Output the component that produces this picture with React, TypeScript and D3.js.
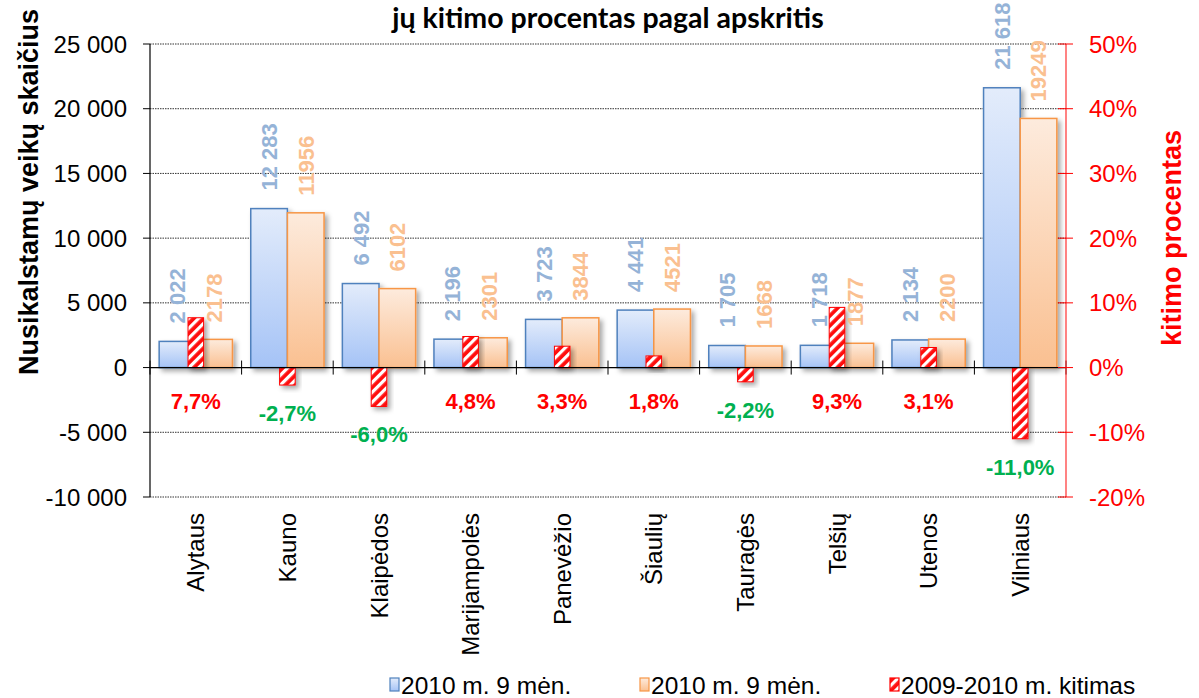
import React from 'react';
import * as d3 from 'd3';

const categories = ['Alytaus', 'Kauno', 'Klaipėdos', 'Marijampolės', 'Panevėžio', 'Šiaulių', 'Tauragės', 'Telšių', 'Utenos', 'Vilniaus'];
const seriesA = [2022, 12283, 6492, 2196, 3723, 4441, 1705, 1718, 2134, 21618];
const seriesB = [2178, 11956, 6102, 2301, 3844, 4521, 1668, 1877, 2200, 19249];
const changePct = [7.7, -2.7, -6.0, 4.8, 3.3, 1.8, -2.2, 9.3, 3.1, -11.0];
const leftTicks = [-10000, -5000, 0, 5000, 10000, 15000, 20000, 25000];
const rightTicks = [-20, -10, 0, 10, 20, 30, 40, 50];
const legendLabels = ['2010 m. 9 mėn.', '2010 m. 9 mėn.', '2009-2010 m. kitimas'];
const titleText = 'jų kitimo procentas pagal apskritis';
const leftTitle = 'Nusikalstamų veikų skaičius';
const rightTitle = 'kitimo procentas';

const loc = d3.formatLocale({ decimal: ',', thousands: ' ', grouping: [3], currency: ['', ''], minus: '-' });
const fmtGroup = loc.format(',d');
const fmtPlain = loc.format('d');
const fmtPct = (v: number) => loc.format('.1f')(v) + '%';
const fmtAxisPct = (v: number) => loc.format('d')(v) + '%';

const W = 1199;
const H = 698;
const L = 150;
const R = 1066;
const T = 44;
const B = 497;
const FONT = '"Liberation Sans", Arial, sans-serif';

export default function App() {
  const x = d3.scaleBand<string>().domain(categories).range([L, R]).paddingInner(0).paddingOuter(0);
  const yL = d3.scaleLinear().domain([-10000, 25000]).range([B, T]);
  const yR = d3.scaleLinear().domain([-20, 50]).range([B, T]);
  const bw = x.bandwidth();
  const barW = bw * 0.4;
  const hatchW = bw * 0.17;
  const zero = yL(0);

  return (
    <svg width={W} height={H} style={{ position: 'absolute', left: 0, top: 0, background: '#fff' }} fontFamily={FONT}>
      <defs>
        <linearGradient id="gBlue" x1="0" y1="0" x2="0" y2="1">
          <stop offset="0" stopColor="#E3ECFB" />
          <stop offset="1" stopColor="#A5C3F6" />
        </linearGradient>
        <linearGradient id="gOrange" x1="0" y1="0" x2="0" y2="1">
          <stop offset="0" stopColor="#FDEBDD" />
          <stop offset="1" stopColor="#FAC091" />
        </linearGradient>
        <pattern id="hatch" patternUnits="userSpaceOnUse" width="7" height="7" patternTransform="rotate(45)">
          <rect width="7" height="7" fill="#FF1010" />
          <rect x="0" y="0" width="3.2" height="7" fill="#ffffff" />
        </pattern>
        <filter id="shadow" x="-30%" y="-30%" width="170%" height="170%">
          <feDropShadow dx="3" dy="3" stdDeviation="2.5" floodColor="#000" floodOpacity="0.35" />
        </filter>
      </defs>

      {/* title */}
      <text x={608} y={28} textAnchor="middle" fontFamily='Lato, "Open Sans", sans-serif' fontWeight="bold" fontSize={28.5} fill="#000">
        {titleText}
      </text>

      {/* gridlines */}
      {leftTicks.filter((t) => t !== 0).map((t) => (
        <line key={'g' + t} x1={L} x2={R} y1={yL(t)} y2={yL(t)} stroke="#333" strokeWidth={1} strokeDasharray="1.5 1" />
      ))}

      {/* bars */}
      {categories.map((c, i) => (
        <g key={'b' + c} filter="url(#shadow)">
          <rect x={x(c)! + bw * 0.1} y={yL(seriesA[i])} width={barW} height={zero - yL(seriesA[i])} fill="url(#gBlue)" stroke="#4F81BD" strokeWidth={1.5} />
          <rect x={x(c)! + bw * 0.5} y={yL(seriesB[i])} width={barW} height={zero - yL(seriesB[i])} fill="url(#gOrange)" stroke="#F79646" strokeWidth={1.5} />
        </g>
      ))}
      {categories.map((c, i) => {
        const v = changePct[i];
        const y0 = yR(Math.max(v, 0));
        const y1 = yR(Math.min(v, 0));
        return (
          <rect key={'h' + c} filter="url(#shadow)" x={x(c)! + bw / 2 - hatchW / 2} y={y0} width={hatchW} height={y1 - y0} fill="url(#hatch)" stroke="#FF0000" strokeWidth={1} />
        );
      })}

      {/* zero line */}
      <line x1={L} x2={R} y1={zero} y2={zero} stroke="#000" strokeWidth={1.2} />
      {categories.map((c) => (
        <line key={'ct' + c} x1={x(c)!} x2={x(c)!} y1={zero - 7} y2={zero + 7} stroke="#000" strokeWidth={1} />
      ))}
      <line x1={R} x2={R} y1={zero - 7} y2={zero + 7} stroke="#000" strokeWidth={1} />

      {/* left axis */}
      <line x1={L} x2={L} y1={T} y2={B} stroke="#000" strokeWidth={1.2} />
      {leftTicks.map((t) => (
        <g key={'lt' + t}>
          <line x1={L - 7} x2={L} y1={yL(t)} y2={yL(t)} stroke="#000" strokeWidth={1} />
          <text x={127} y={yL(t)} dy="0.36em" textAnchor="end" fontSize={24} fill="#000">
            {t === 0 ? '0' : fmtGroup(t)}
          </text>
        </g>
      ))}

      {/* right axis */}
      <line x1={R} x2={R} y1={T} y2={B} stroke="#FF3030" strokeWidth={1.2} />
      {rightTicks.map((t) => (
        <g key={'rt' + t}>
          <line x1={R - 8} x2={R + 7} y1={yR(t)} y2={yR(t)} stroke="#FF0000" strokeWidth={1} />
          <text x={1089} y={yR(t)} dy="0.36em" textAnchor="start" fontSize={24} fill="#FF0000">
            {fmtAxisPct(t)}
          </text>
        </g>
      ))}

      {/* value labels */}
      {categories.map((c, i) => {
        const cxA = x(c)! + bw * 0.3;
        const cxB = x(c)! + bw * 0.7;
        const yA = yL(seriesA[i]) - 18;
        const yB = yL(seriesB[i]) - 17;
        return (
          <g key={'vl' + c} fontWeight="bold" fontSize={22}>
            <text transform={`translate(${cxA},${yA}) rotate(-90)`} dy="0.36em" fill="#95B3D7">
              {fmtGroup(seriesA[i])}
            </text>
            <text transform={`translate(${cxB},${yB}) rotate(-90)`} dy="0.36em" fill="#FAC090">
              {fmtPlain(seriesB[i])}
            </text>
          </g>
        );
      })}

      {/* percent labels */}
      {categories.map((c, i) => {
        const v = changePct[i];
        const cy = Math.max(401, yR(Math.min(v, 0)) + 28);
        return (
          <text key={'pl' + c} x={x(c)! + bw / 2} y={cy} dy="0.36em" textAnchor="middle" fontWeight="bold" fontSize={22} fill={v < 0 ? '#00B050' : '#FF0000'}>
            {fmtPct(v)}
          </text>
        );
      })}

      {/* category labels */}
      {categories.map((c) => (
        <text key={'cl' + c} transform={`translate(${x(c)! + bw / 2},${513}) rotate(-90)`} dy="0.36em" textAnchor="end" fontSize={24} fill="#000">
          {c}
        </text>
      ))}

      {/* axis titles */}
      <text transform={`translate(28,192) rotate(-90)`} dy="0.36em" textAnchor="middle" fontWeight="bold" fontSize={27} fill="#000">
        {leftTitle}
      </text>
      <text transform={`translate(1171,238) rotate(-90)`} dy="0.36em" textAnchor="middle" fontWeight="bold" fontSize={27} fill="#FF0000">
        {rightTitle}
      </text>

      {/* legend */}
      {legendLabels.map((lab, i) => {
        const lx = [390, 640, 890][i];
        const fill = ['url(#gBlue)', 'url(#gOrange)', 'url(#hatch)'][i];
        const stroke = ['#4F81BD', '#F79646', '#FF0000'][i];
        return (
          <g key={'lg' + i}>
            <rect x={lx} y={678} width={9} height={13} fill={fill} stroke={stroke} strokeWidth={1.2} />
            <text x={lx + 11} y={685} dy="0.36em" fontSize={24.5} fill="#000">
              {lab}
            </text>
          </g>
        );
      })}
    </svg>
  );
}
